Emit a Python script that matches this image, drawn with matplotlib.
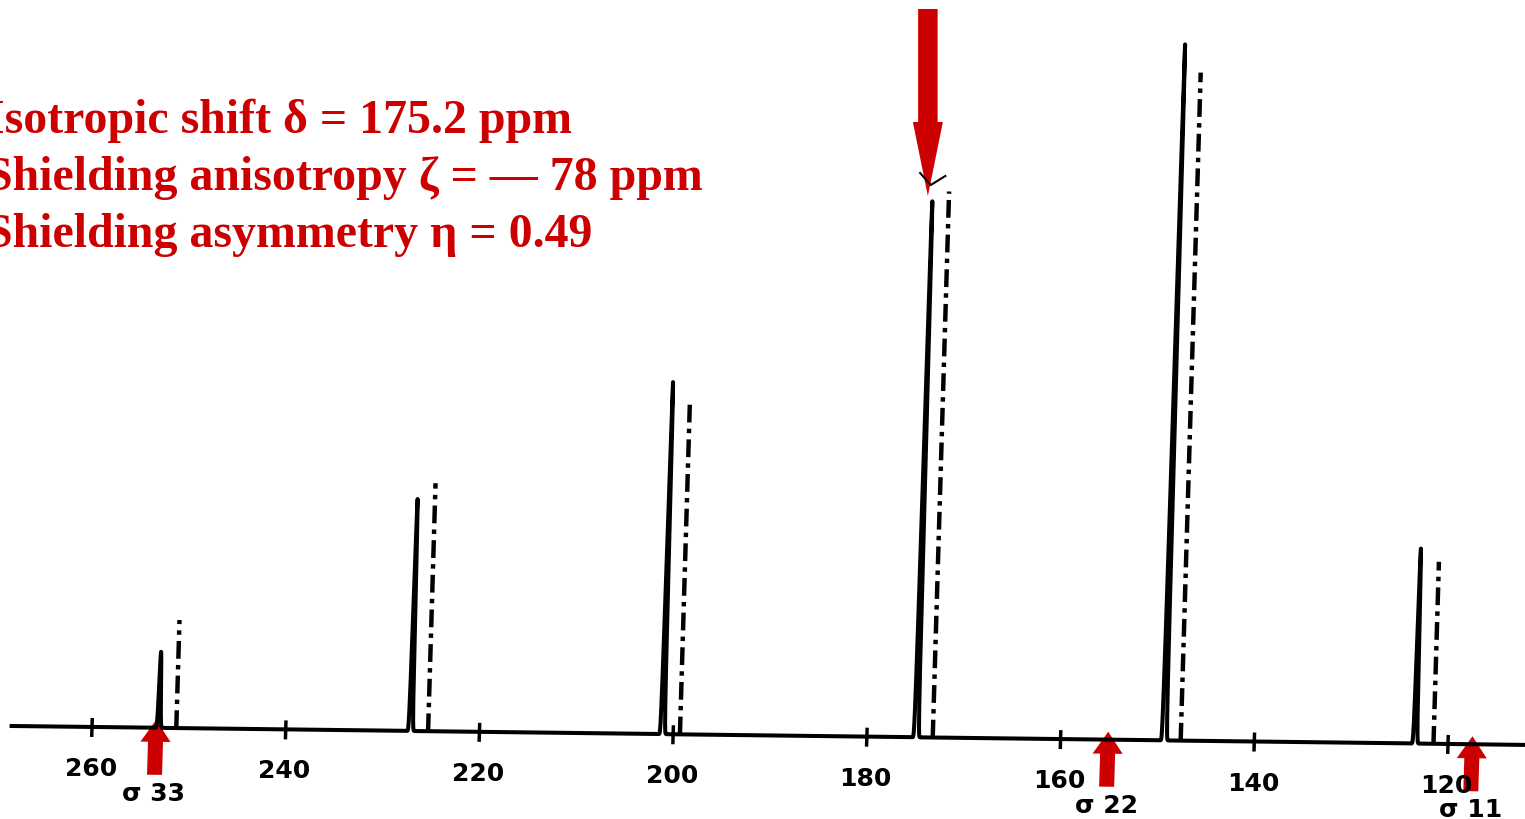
import numpy as np
import matplotlib.pyplot as plt
from matplotlib.transforms import Affine2D
from matplotlib.patches import FancyArrow

# ---------------------------------------------
# Peaks
# position = ppm at the baseline, height = px above baseline
# ---------------------------------------------
solid_ppm = [253.1, 227.1, 201.1, 174.9, 149.3, 123.4]
solid_height = [76, 232, 352, 536, 696, 195]

dashed_ppm = [251.3, 225.3, 199.3, 173.2, 147.6, 121.5]
dashed_height = [108, 248, 330, 546, 668, 182]

tick_ppm = [260, 240, 220, 200, 180, 160, 140, 120]

sigma_labels = ["σ 33", "σ 22", "σ 11"]
sigma_ppm = [253.4, 155.1, 117.5]
iso_arrow_ppm = 173.7

info_lines = [
    "Isotropic shift δ = 175.2 ppm",
    "Shielding anisotropy ζ = — 78 ppm",
    "Shielding asymmetry η = 0.49",
]

RED = "#CC0000"
W, H = 1525, 820

# ---------------------------------------------
# Figure: one axes over the whole canvas, y in px above baseline
# ---------------------------------------------
fig = plt.figure(figsize=(W / 100, H / 100), dpi=100)
ax = fig.add_axes([0, 0, 1, 1])
px_per_ppm = 1356 / 140
ax.set_xlim(260 + 92 / px_per_ppm, 260 - (W - 92) / px_per_ppm)
ax.set_ylim(-92, 728)
ax.axis("off")

# the scan is slightly rotated / sheared: apply it in display space
shear = (Affine2D().translate(-92, -92)
         + Affine2D(np.array([[1, 0.03, 0], [-0.0125, 1, 0], [0, 0, 1]]))
         + Affine2D().translate(92, 92))
tr = ax.transData + shear

# solid spectrum
grid = np.arange(268.3, 112.0, -0.005)
sigma = 0.09
spec = np.zeros_like(grid)
for p, h in zip(solid_ppm, solid_height):
    spec += h * np.exp(-0.5 * ((grid - p) / sigma) ** 2)
ax.plot(grid, spec, color="black", lw=2.9, transform=tr)

# dash-dot spectrum (drawn as sticks)
ax.vlines(dashed_ppm, 0, dashed_height, colors="black", lw=3.2,
          linestyles=[(0, (4, 1.4, 1, 1.4))], transform=tr)

# scale ticks and labels
ax.vlines(tick_ppm, -10, 9, colors="black", lw=2.5, transform=tr)
for t in tick_ppm:
    ax.text(t, -41, str(t), transform=tr, ha="center", va="center",
            fontsize=18, fontweight="bold", color="black")

# sigma markers
for p, lab in zip(sigma_ppm, sigma_labels):
    ax.add_patch(FancyArrow(p, -47, 0, 55, width=15 / px_per_ppm,
                            head_width=30 / px_per_ppm, head_length=22,
                            length_includes_head=True, color=RED, lw=0,
                            transform=tr))
    ax.text(p, -65, lab, transform=tr, ha="center", va="center",
            fontsize=18, fontweight="bold", color="black")

# isotropic arrow
ax.add_patch(FancyArrow(iso_arrow_ppm, 718, 0, -187, width=19.5 / px_per_ppm,
                        head_width=30 / px_per_ppm, head_length=74,
                        length_includes_head=True, color=RED, lw=0))
ax.plot([174.5, 173.4, 171.9], [554, 542, 551], color="black", lw=1.5)

# parameter text
for i, line in enumerate(info_lines):
    fig.text(-14 / W, 1 - (133 + 57 * i) / H, line, ha="left", va="baseline",
             family="Liberation Serif", fontweight="bold", fontsize=34.5,
             color=RED)

fig.savefig("out.png", dpi=100)
